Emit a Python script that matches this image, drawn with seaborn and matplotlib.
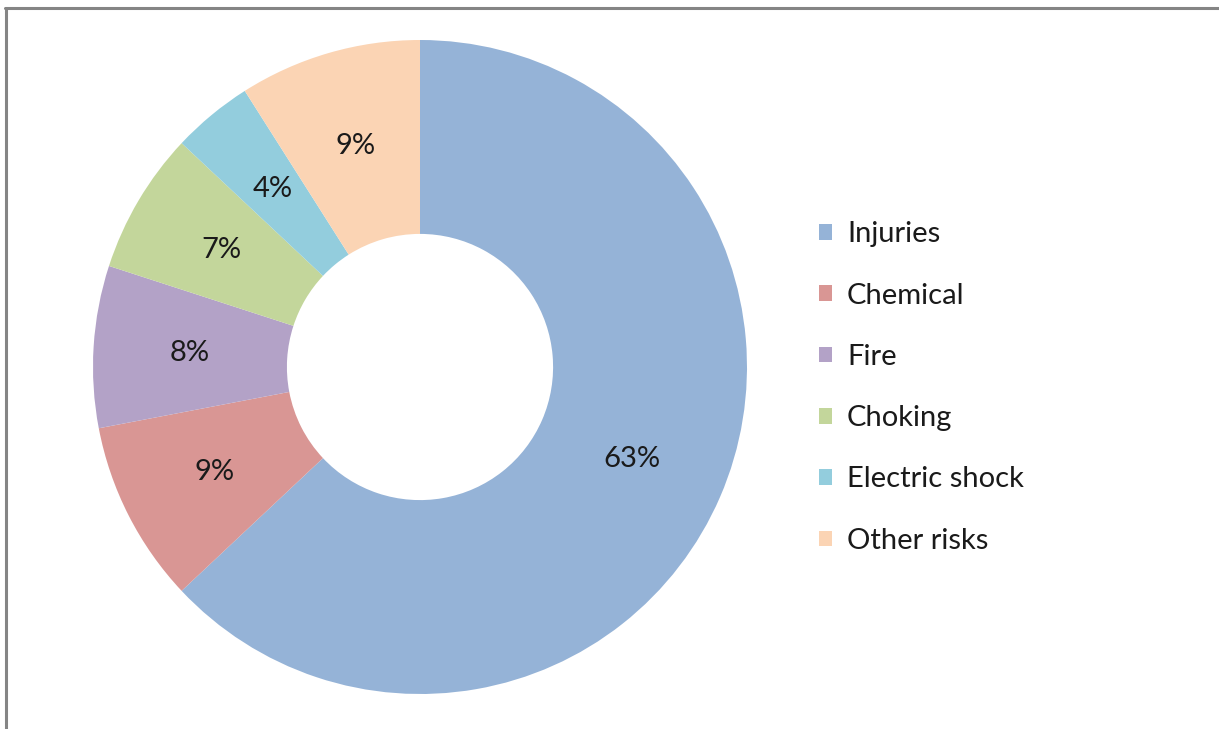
import matplotlib
matplotlib.use("Agg")
import matplotlib.pyplot as plt
from matplotlib.lines import Line2D
import seaborn as sns

categories = ["Injuries", "Chemical", "Fire", "Choking", "Electric shock", "Other risks"]
shares = [63, 9, 8, 7, 4, 9]
colors = ["#95B3D7", "#D99694", "#B3A2C7", "#C3D69B", "#93CDDD", "#FBD4B4"]

sns.set_theme(style="white")
plt.rcParams["font.family"] = ["Lato", "DejaVu Sans"]

fig = plt.figure(figsize=(12.19, 7.29), dpi=100)
fig.patch.set_facecolor("white")

# donut axes sized so the outer radius lands where the original is
ax = fig.add_axes([93 / 1219, 35 / 729, 654 / 1219, 654 / 729])
palette = sns.color_palette(colors)
wedges, _, autotexts = ax.pie(
    shares, colors=palette, startangle=90, counterclock=False,
    autopct=lambda p: f"{p:.0f}%", pctdistance=0.705,
    wedgeprops=dict(width=0.593, linewidth=0),
    textprops=dict(fontsize=21, color="#1a1a1a"))
ax.set_xlim(-1, 1)
ax.set_ylim(-1, 1)
ax.set_aspect("equal")
ax.axis("off")

fig.legend(wedges, categories, loc="center left",
           bbox_to_anchor=(793 / 1219, 341.5 / 729), frameon=False,
           fontsize=21, handlelength=0.45, handleheight=0.45,
           handletextpad=0.5, labelspacing=1.21, labelcolor="#1a1a1a")

# grey frame on the top and left edges
fig.add_artist(Line2D([5 / 1219, 1], [1 - 8 / 729, 1 - 8 / 729],
                      transform=fig.transFigure, color="#858585", lw=2.2))
fig.add_artist(Line2D([6 / 1219, 6 / 1219], [0, 1 - 8 / 729],
                      transform=fig.transFigure, color="#858585", lw=2.2))

fig.savefig("out.png", dpi=100, facecolor="white")
